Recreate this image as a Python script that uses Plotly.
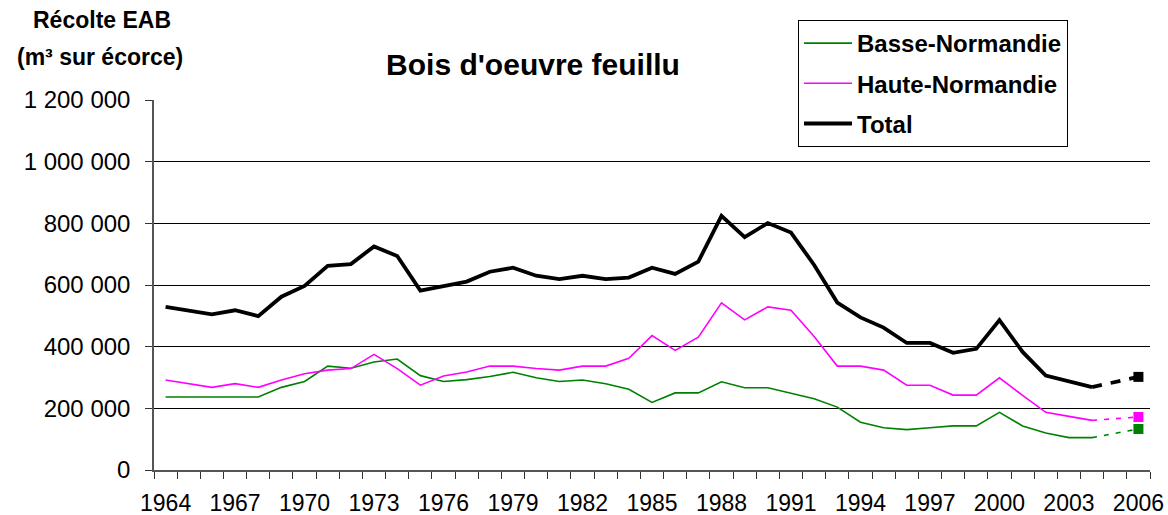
import plotly.graph_objects as go

years = list(range(1964, 2005))
basse = [237000, 237000, 237000, 237000, 237000, 268000, 287000, 337000, 330000, 350000,
         360000, 306000, 287000, 293000, 303000, 317000, 299000, 287000, 292000, 280000,
         262000, 219000, 250000, 250000, 286000, 267000, 267000, 249000, 231000, 204000,
         155000, 137000, 131000, 137000, 143000, 143000, 187000, 143000, 120000, 105000,
         105000]
haute = [292000, 280000, 268000, 280000, 268000, 292000, 312000, 324000, 329000, 375000,
         329000, 275000, 305000, 318000, 337000, 337000, 329000, 324000, 337000, 337000,
         362000, 436000, 388000, 431000, 542000, 487000, 529000, 518000, 433000, 337000,
         337000, 324000, 275000, 275000, 243000, 243000, 299000, 242000, 187000, 174000,
         161000]
total = [529000, 516000, 505000, 518000, 499000, 562000, 597000, 662000, 668000, 725000,
         694000, 582000, 595000, 611000, 643000, 656000, 630000, 619000, 630000, 619000,
         624000, 656000, 636000, 676000, 824000, 755000, 801000, 770000, 665000, 543000,
         495000, 462000, 412000, 412000, 380000, 393000, 486000, 383000, 306000, 289000,
         269000]

proj_years = [2004, 2006]
basse_2006 = 133000
haute_2006 = 172000
total_2006 = 302000

series_names = ["Basse-Normandie", "Haute-Normandie", "Total"]
series_colors = ["#008000", "#FF00FF", "#000000"]
series_widths = [1.6, 1.6, 3.8]

x_tick_years = list(range(1964, 2007, 3))
y_tick_vals = [0, 200000, 400000, 600000, 800000, 1000000, 1200000]
y_tick_text = ["0", "200 000", "400 000", "600 000", "800 000", "1 000 000", "1 200 000"]

FONT = "Liberation Sans, Arial, sans-serif"

fig = go.Figure()
for i, (name, vals) in enumerate(zip(series_names, [basse, haute, total])):
    fig.add_trace(go.Scatter(x=years, y=vals, mode="lines", name=name,
                             legendgroup=name,
                             line=dict(color=series_colors[i], width=series_widths[i])))
for i, (name, vals, proj) in enumerate(zip(series_names, [basse, haute, total],
                                          [basse_2006, haute_2006, total_2006])):
    dash = "10px,9px" if name == "Total" else "5px,7px"
    fig.add_trace(go.Scatter(x=proj_years, y=[vals[-1], proj], mode="lines",
                             showlegend=False, hoverinfo="skip",
                             line=dict(color=series_colors[i], width=series_widths[i], dash=dash)))
    fig.add_trace(go.Scatter(x=[proj_years[-1]], y=[proj], mode="markers",
                             showlegend=False,
                             marker=dict(symbol="square", size=10, color=series_colors[i])))

fig.update_layout(
    width=1168, height=515,
    margin=dict(l=154, r=18, t=100, b=45, autoexpand=False),
    paper_bgcolor="white", plot_bgcolor="white",
    font=dict(family=FONT, color="black"),
    showlegend=True,
    legend=dict(x=(798 - 154) / 996, y=(470 - 20) / 370, xanchor="left", yanchor="top",
                xref="paper", yref="paper",
                bgcolor="white", bordercolor="black", borderwidth=1,
                font=dict(family=FONT, size=24, color="black", weight="bold"),
                traceorder="grouped", tracegroupgap=6, itemwidth=48),
    xaxis=dict(range=[1963.5, 2006.5], tickmode="array", tickvals=x_tick_years,
               ticktext=[str(y) for y in x_tick_years], ticks="", showgrid=False,
               showline=True, linecolor="#555555", linewidth=1.5, automargin=False,
               tickfont=dict(family=FONT, size=23), ticklabelstandoff=12,
               minor=dict(tick0=1963.5, dtick=1, ticks="outside", ticklen=7,
                          tickcolor="#333333", tickwidth=1, showgrid=False),
               zeroline=False, fixedrange=True),
    yaxis=dict(range=[0, 1200000], tickmode="array", tickvals=y_tick_vals,
               ticktext=y_tick_text, ticks="outside", ticklen=7, tickcolor="#333333",
               showgrid=True, gridcolor="#000000", gridwidth=1, automargin=False,
               showline=True, linecolor="#555555", linewidth=1.5,
               tickfont=dict(family=FONT, size=24), ticklabelstandoff=10,
               zeroline=False, fixedrange=True),
    title=dict(text="<b>Bois d'oeuvre feuillu</b>", x=533 / 1168, xanchor="center",
               y=1 - 64 / 515, yanchor="middle",
               font=dict(family=FONT, size=30, color="black")),
    annotations=[
        dict(text="<b>Récolte EAB</b>", xref="paper", yref="paper",
             x=(102 - 154) / 996, y=(470 - 20) / 370, xanchor="center", yanchor="middle",
             showarrow=False, font=dict(family=FONT, size=23, color="black")),
        dict(text="<b>(m³ sur écorce)</b>", xref="paper", yref="paper",
             x=(100 - 154) / 996, y=(470 - 57) / 370, xanchor="center", yanchor="middle",
             showarrow=False, font=dict(family=FONT, size=23, color="black")),
    ],
)

fig.write_html("out.html", config={"displayModeBar": False},
               post_script="document.body.style.margin='0';document.body.style.overflow='hidden';")
